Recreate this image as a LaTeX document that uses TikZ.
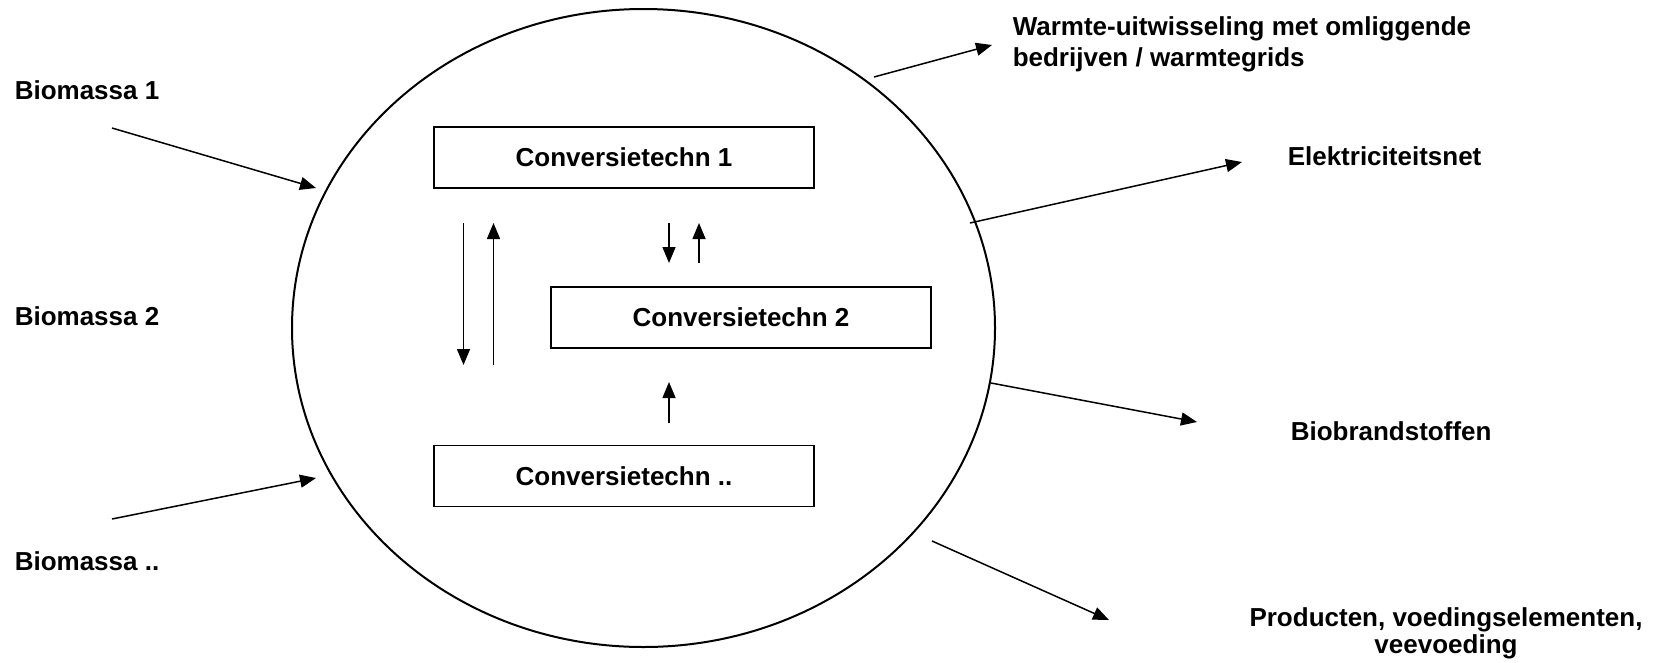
\documentclass[tikz,border=0pt]{standalone}
\usepackage{fontspec}
\setmainfont{Liberation Sans}
\usetikzlibrary{arrows.meta, shapes.geometric}

\begin{document}
\begin{tikzpicture}[x=1pt, y=-1pt, line width=1.5pt, >={Triangle[length=16pt,width=13pt]},
  tech/.style = {draw, minimum width=380pt, minimum height=61pt, inner sep=0pt, font=\bfseries\fontsize{26}{30.7}\selectfont},
  txt/.style = {inner sep=0pt, font=\bfseries\fontsize{26}{30.7}\selectfont}]
\useasboundingbox (0,0) rectangle (1665,662);
\node[draw, ellipse, minimum width=703pt, minimum height=638pt, inner sep=0pt, line width=2pt] (plant) at (643.5,328) {};
\node[tech] (c1) at (624,157.5) {Conversietechn 1};
\node[tech] (c2) at (741,317.5) {Conversietechn 2};
\node[tech] (c3) at (624,476) {Conversietechn ..};
\node[txt, anchor=base west] (bio1) at (14,99.3) {Biomassa 1};
\node[txt, anchor=base west] (bio2) at (14,325) {Biomassa 2};
\node[txt, anchor=base west] (bion) at (14,570) {Biomassa ..};
\node[txt, anchor=west, align=left] (heat) at (1012,44.6) {Warmte-uitwisseling met omliggende\\bedrijven / warmtegrids};
\node[txt, anchor=base west] (grid) at (1287,165) {Elektriciteitsnet};
\node[txt, anchor=base west] (fuel) at (1290,440) {Biobrandstoffen};
\node[txt, align=center, font=\bfseries\fontsize{26}{27}\selectfont] (prod) at (1446,633) {Producten, voedingselementen,\\veevoeding};
% in- en uitgaande stromen
\coordinate (in1a) at (112,128);
\coordinate (in1b) at (316,188);
\coordinate (in2a) at (112,519);
\coordinate (in2b) at (316,478);
\coordinate (out1a) at (874,77);
\coordinate (out1b) at (992,45);
\coordinate (out2a) at (970,223);
\coordinate (out2b) at (1242,162);
\coordinate (out3a) at (991,383);
\coordinate (out3b) at (1197,422);
\coordinate (out4a) at (932,541);
\coordinate (out4b) at (1109,620);
% pijlen tussen de technieken
\coordinate (d1a) at (463.5,223);
\coordinate (d1b) at (463.5,365);
\coordinate (u1a) at (493.5,365);
\coordinate (u1b) at (493.5,223);
\coordinate (d2a) at (669,223);
\coordinate (d2b) at (669,263);
\coordinate (u2a) at (699,263);
\coordinate (u2b) at (699,223);
\coordinate (u3a) at (669,423);
\coordinate (u3b) at (669,382);
\draw[->] (in1a) -- (in1b);
\draw[->] (in2a) -- (in2b);
\draw[->] (out1a) -- (out1b);
\draw[->] (out2a) -- (out2b);
\draw[->] (out3a) -- (out3b);
\draw[->] (out4a) -- (out4b);
\draw[->] (d1a) -- (d1b);
\draw[->] (u1a) -- (u1b);
\draw[->] (d2a) -- (d2b);
\draw[->] (u2a) -- (u2b);
\draw[->] (u3a) -- (u3b);
\end{tikzpicture}
\end{document}
